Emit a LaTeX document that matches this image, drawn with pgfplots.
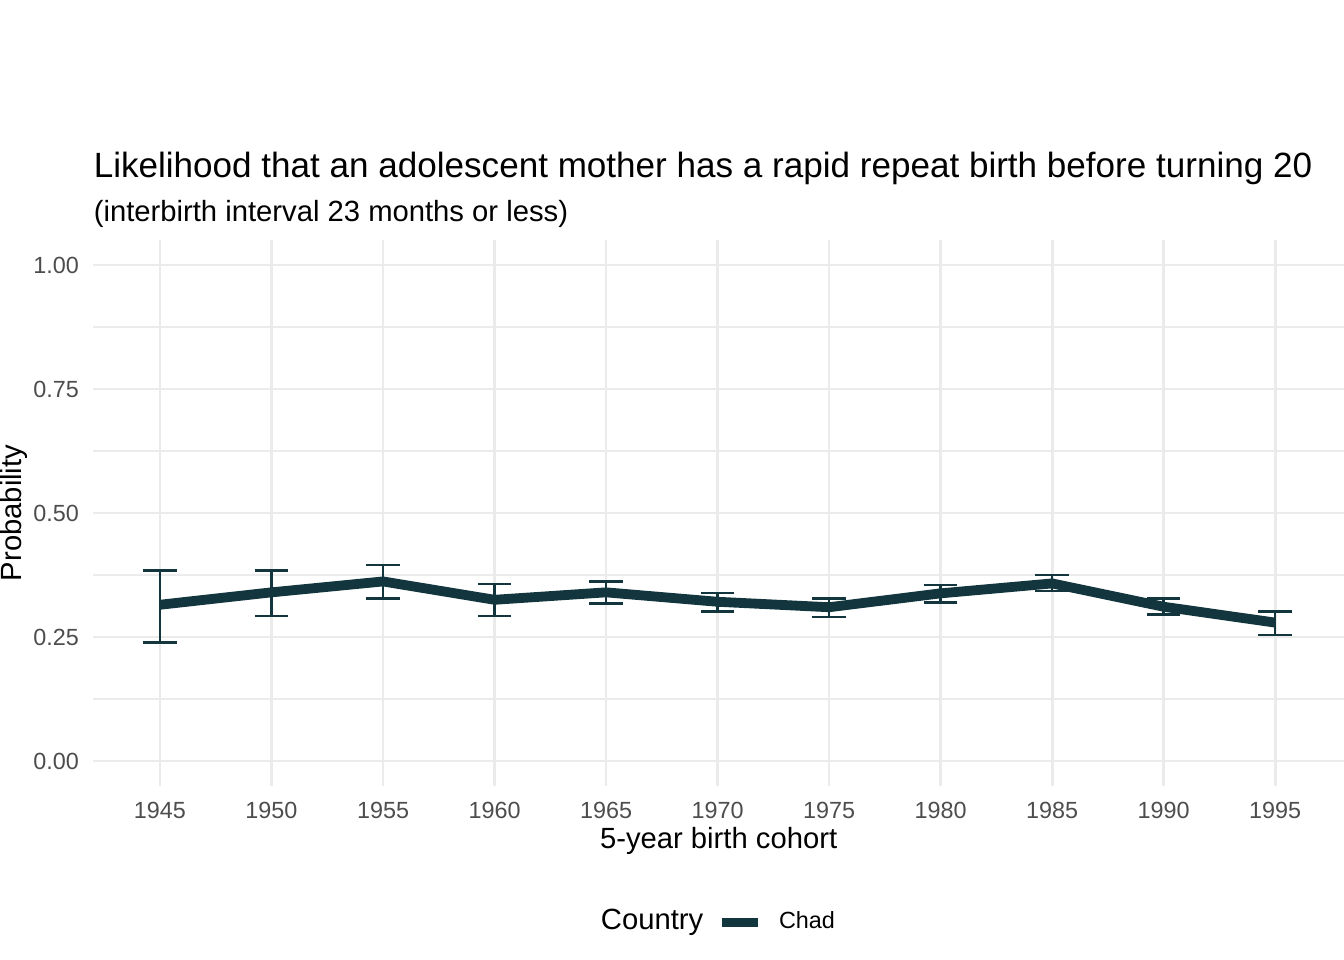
\documentclass[border=0pt]{standalone}
\usepackage{pgfplots}
\pgfplotsset{compat=1.18}
\usepackage{pgfplotstable}
\usepackage{fontspec}
\setmainfont{Liberation Sans}

\definecolor{chadc}{RGB}{18,53,62}
\definecolor{gridc}{RGB}{235,235,235}
\definecolor{tickc}{RGB}{77,77,77}

% cohort, estimate, lower, upper
\pgfplotstableread{
x    y     lo    hi
1945 0.315 0.239 0.384
1950 0.340 0.292 0.384
1955 0.362 0.327 0.395
1960 0.325 0.292 0.357
1965 0.340 0.318 0.362
1970 0.321 0.302 0.339
1975 0.310 0.290 0.328
1980 0.338 0.320 0.355
1985 0.358 0.343 0.375
1990 0.311 0.296 0.327
1995 0.279 0.254 0.302
}\chad

\begin{document}
\begin{tikzpicture}
\useasboundingbox (0,0) rectangle (505.89pt,361.35pt);

\begin{axis}[
    at={(35.12pt,65.57pt)}, anchor=south west,
    scale only axis,
    width=470.78pt, height=205.37pt,
    xmin=1942.01, xmax=1998.09,
    ymin=-0.05, ymax=1.05,
    axis line style={draw=none},
    major tick length=0pt, minor tick length=0pt,
    xtick={1945,1950,...,1995},
    xticklabels={1945,1950,1955,1960,1965,1970,1975,1980,1985,1990,1995},
    ytick={0,0.25,0.5,0.75,1},
    yticklabels={0.00,0.25,0.50,0.75,1.00},
    minor ytick={0.125,0.375,0.625,0.875},
    grid=both,
    major grid style={draw=gridc, line width=1.07pt},
    minor grid style={draw=gridc, line width=0.53pt},
    ticklabel style={font=\fontsize{8.8}{10.56}\selectfont, text=tickc, inner sep=0pt},
    xticklabel style={anchor=base, yshift=-12.2pt},
    yticklabel style={anchor=east, xshift=-5.27pt},
    legend cell align=left,
    legend style={at={(axis description cs:0.4981,-0.2461)}, anchor=west,
        draw=none, fill=none, inner sep=0pt,
        nodes={inner sep=0pt, text depth=0pt},
        cells={anchor=base west},
        font=\fontsize{8.8}{10.56}\selectfont},
    legend image code/.code={
        \draw[line width=3.6pt, line cap=butt] (0pt,2.34pt) -- (13.8pt,2.34pt);
        \path (19.8pt,2.34pt);
    },
]
\addplot[color=chadc, line width=3.7pt, line join=round, line cap=butt]
    table[x=x, y=y] {\chad};
\addlegendentry{Chad}

\addplot[forget plot, draw=none, mark=none,
    error bars/.cd, y dir=both, y explicit,
    error bar style={draw=chadc, line width=1pt, solid},
    error mark options={draw=chadc, line width=1pt, mark size=6.28pt, rotate=90}]
    table[x=x, y=y,
          y error plus expr=\thisrow{hi}-\thisrow{y},
          y error minus expr=\thisrow{y}-\thisrow{lo}] {\chad};
\end{axis}

\node[anchor=base west, inner sep=0pt, font=\fontsize{13.2}{15.84}\selectfont]
    at (35.12pt,294.4pt) {Likelihood that an adolescent mother has a rapid repeat birth before turning 20};
\node[anchor=base west, inner sep=0pt, font=\fontsize{11}{13.2}\selectfont]
    at (35.12pt,277.8pt) {(interbirth interval 23 months or less)};
\node[anchor=base, inner sep=0pt, font=\fontsize{11}{13.2}\selectfont]
    at (270.5pt,41.9pt) {5-year birth cohort};
\node[anchor=base, rotate=90, inner sep=0pt, font=\fontsize{11}{13.2}\selectfont]
    at (8.28pt,168.26pt) {Probability};
\node[anchor=base west, inner sep=0pt, font=\fontsize{11}{13.2}\selectfont]
    at (226.0pt,11.56pt) {Country};
\end{tikzpicture}
\end{document}
